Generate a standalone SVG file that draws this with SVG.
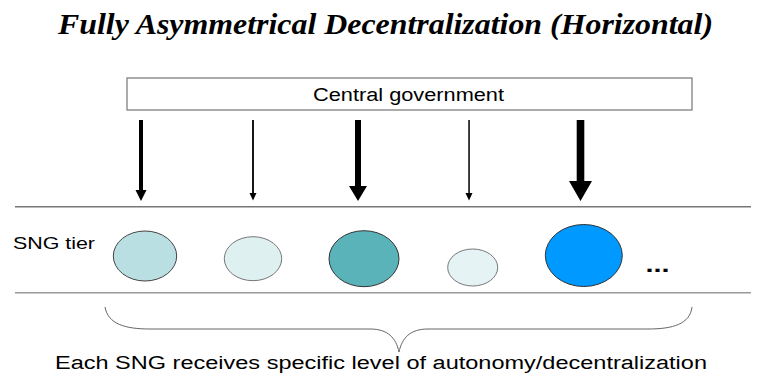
<svg xmlns="http://www.w3.org/2000/svg" width="761" height="376" viewBox="0 0 761 376">
<style>
.lbl{font-family:"Liberation Sans",Arial,sans-serif;fill:#000}
.title{font-family:"Liberation Serif","Times New Roman",serif;font-weight:bold;font-style:italic;fill:#000}
.tier{stroke-width:1.6;fill:none}
.arr{fill:#000;stroke:none}
.sng{stroke-width:1}
</style>
<rect width="761" height="376" fill="#fff"/>
<text class="title" x="385.5" y="33.5" font-size="30" text-anchor="middle" textLength="655" lengthAdjust="spacingAndGlyphs">Fully Asymmetrical Decentralization (Horizontal)</text>
<g id="central">
<rect x="127" y="78" width="565" height="32" fill="#fff" stroke="#808080" stroke-width="1.3"/>
<text class="lbl" x="408.5" y="101" font-size="18" text-anchor="middle" textLength="191" lengthAdjust="spacingAndGlyphs">Central government</text>
</g>
<g id="tier">
<line class="tier" x1="15" y1="206.7" x2="751" y2="206.7" stroke="#777"/>
<line class="tier" x1="15" y1="292.7" x2="751" y2="292.7" stroke="#999" stroke-width="2"/>
<text class="lbl" x="13" y="249" font-size="17" textLength="82" lengthAdjust="spacingAndGlyphs">SNG tier</text>
</g>
<g id="connectors">
<path class="arr" d="M139,120 H143 V190 H146.5 L141,201 L135.5,190 H139 Z"/>
<path class="arr" d="M252.1,120 H253.9 V193 H256.5 L253,200.5 L249.5,193 H252.1 Z"/>
<path class="arr" d="M355,120 H361 V186 H367 L358,201 L349,186 H355 Z"/>
<path class="arr" d="M468.3,120 H469.8 V193 H472.5 L469,200.5 L465.5,193 H468.3 Z"/>
<path class="arr" d="M576.7,120 H584.3 V181 H592 L580.5,201 L569,181 H576.7 Z"/>
</g>
<g id="sng1"><ellipse class="sng" cx="145" cy="256" rx="31.7" ry="25" fill="#B9DFE3" stroke="#444"/></g>
<g id="sng2"><ellipse class="sng" cx="253" cy="258.7" rx="28.7" ry="22" fill="#DFF0F1" stroke="#777"/></g>
<g id="sng3"><ellipse class="sng" cx="364" cy="258.7" rx="35" ry="28" fill="#5BB3BA" stroke="#333"/></g>
<g id="sng4"><ellipse class="sng" cx="472.7" cy="267.5" rx="25" ry="18.5" fill="#E5F3F4" stroke="#777"/></g>
<g id="sng5"><ellipse class="sng" cx="583.8" cy="255.5" rx="38.5" ry="31" fill="#0099FF" stroke="#333"/></g>
<g id="more"><text class="lbl" x="645.5" y="272" font-size="22" font-weight="bold" textLength="24" lengthAdjust="spacingAndGlyphs">...</text></g>
<g id="brace">
<path d="M105,307 C108,324 125,329 150,329 L370,329 C388,329 396,338 399,352 C402,338 410,329 428,329 L648,329 C673,329 690,324 692,307" fill="none" stroke="#666" stroke-width="1"/>
</g>
<text class="lbl" x="381" y="369" font-size="18" text-anchor="middle" textLength="652" lengthAdjust="spacingAndGlyphs">Each SNG receives specific level of autonomy/decentralization</text>
</svg>
